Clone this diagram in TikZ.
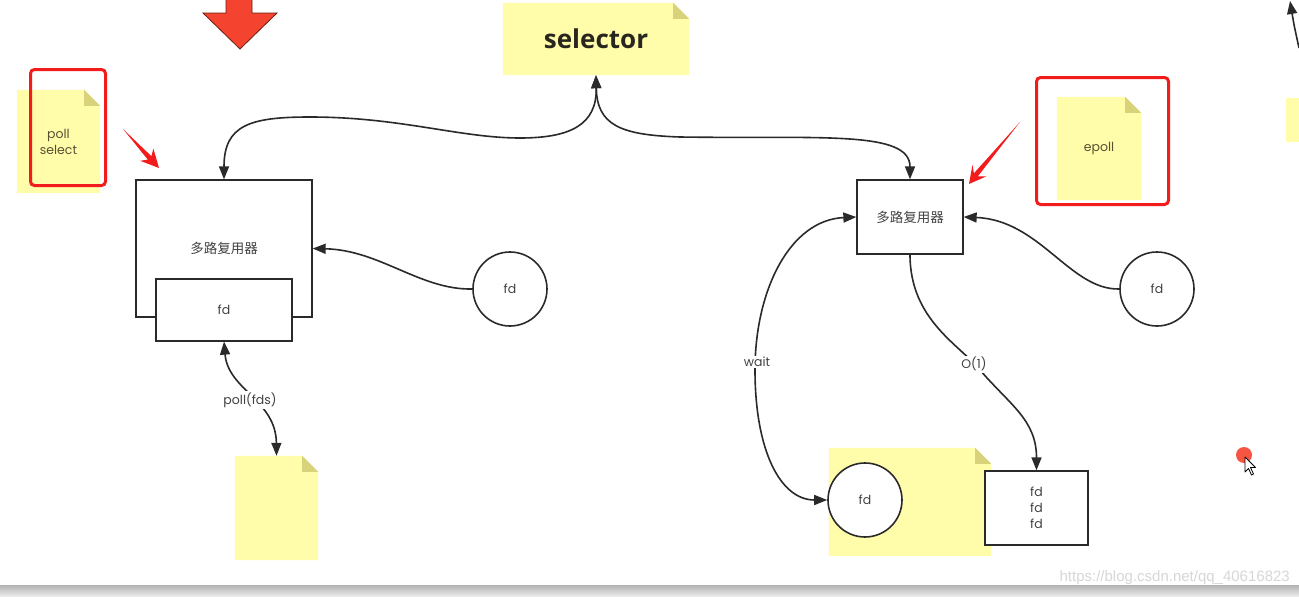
\documentclass[tikz,border=0pt]{standalone}
\usepackage{fontspec}
\setmainfont{Poppins}
\newfontfamily\cjk{Noto Sans CJK SC}
\newfontfamily\selfont{Open Sans}
\newfontfamily\wmfont{Liberation Sans}
\usetikzlibrary{arrows.meta,calc,backgrounds}
\definecolor{notey}{RGB}{255,253,170}
\definecolor{foldy}{RGB}{216,210,122}
\definecolor{linec}{RGB}{42,42,42}
\definecolor{txtc}{RGB}{66,66,66}
\definecolor{notetxt}{RGB}{88,80,50}
\definecolor{redc}{RGB}{242,28,28}
\definecolor{bigred}{RGB}{244,67,46}
\newcommand{\dognote}[1]{%
  \fill[notey] (#1.south west) -- (#1.north west) -- ([xshift=-16pt]#1.north east)
     -- ([yshift=-16pt]#1.north east) -- (#1.south east) -- cycle;
  \fill[foldy] ([xshift=-16pt]#1.north east) -- ([yshift=-16pt]#1.north east)
     -- ([xshift=-16pt,yshift=-16pt]#1.north east) -- cycle;}
\tikzset{
  box/.style={draw=linec, line width=1.3pt, fill=white, inner sep=0pt, text=txtc, font=\fontsize{12.5}{16}\selectfont},
  fdcirc/.style={circle, draw=linec, line width=1.6pt, fill=white, minimum size=74pt, inner sep=0pt, text=txtc, font=\fontsize{12.5}{13}\selectfont},
  conn/.style={draw=linec, line width=1.6pt},
  arr/.style={conn, -{Triangle[length=13pt,width=10pt]}},
  darr/.style={conn, {Triangle[length=13pt,width=10pt]}-{Triangle[length=13pt,width=10pt]}},
  lbl/.style={fill=white, inner sep=1.5pt, text=txtc, font=\fontsize{12.5}{13}\selectfont},
  notebox/.style={inner sep=0pt, text=notetxt, font=\fontsize{12.5}{16}\selectfont, align=center},
  redbox/.style={draw=redc, line width=3pt, rounded corners=4pt, inner sep=0pt},
  redarrow/.style={fill=redc},
}
\begin{document}
\begin{tikzpicture}[x=1pt,y=-1pt]
\useasboundingbox (0,0) rectangle (1299,597);

% notes
\node[notebox, minimum width=186pt, minimum height=72pt, font=\selfont\bfseries\fontsize{26}{30}\selectfont, text={rgb,255:red,40;green,38;blue,30}] (sel) at (596,39) {selector};
\node[notebox, minimum width=83pt, minimum height=103pt] (pnote) at (58.5,141.5) {poll\\select};
\node[notebox, minimum width=83pt, minimum height=104pt] (bnote) at (276.5,508) {};
\node[notebox, minimum width=84pt, minimum height=103pt] (enote) at (1099,148.5) {epoll};
\node[notebox, minimum width=162pt, minimum height=108pt] (wnote) at (910,502) {};
\begin{pgfonlayer}{background}
  \fill[white] (0,0) rectangle (1299,597);
  \dognote{sel}
  \dognote{pnote}
  \dognote{bnote}
  \dognote{enote}
  \dognote{wnote}
  \fill[notey] (1286,98) rectangle (1299,142);
\end{pgfonlayer}

% red highlight boxes
\node[redbox, minimum width=75pt, minimum height=116pt] (rb1) at (68,127.5) {};
\node[redbox, minimum width=132pt, minimum height=127pt] (rb2) at (1102.5,141) {};

% big red arrow
\filldraw[fill=bigred, draw={rgb,255:red,110;green,30;blue,20}, line width=0.8pt, line join=miter]
  (226,-2) -- (226,13) -- (203,13) -- (240,49) -- (277,13) -- (252,13) -- (252,-2) -- cycle;

% small red arrows
\fill[redarrow] (123,129) -- (147.8,159.6) -- (140.2,160.8) -- (159,168) -- (153.4,148.6) -- (151.4,156.2) -- cycle;
\fill[redarrow] (1020,122) -- (973.9,173.3) -- (972.5,164.8) -- (969,184) -- (986.3,176.4) -- (977.7,176.5) -- cycle;

% boxes and circles
\node[box, minimum width=176pt, minimum height=137pt] (mux1) at (224,248.5) {\cjk\fontsize{13.5}{14}\selectfont 多路复用器};
\node[box, minimum width=136pt, minimum height=62pt] (fdin) at (224,310) {fd};
\node[fdcirc] (c1) at (510,289) {fd};
\node[box, minimum width=106pt, minimum height=74pt] (mux2) at (910,217) {\cjk\fontsize{13.5}{14}\selectfont 多路复用器};
\node[fdcirc] (c2) at (1157,289) {fd};
\node[fdcirc] (c3) at (865,500) {fd};
\node[box, minimum width=103pt, minimum height=74pt, align=center] (fdl) at (1036.5,508) {fd\\fd\\fd};

% connectors
\draw[arr] (c1.west) .. controls (420,290) and (380,250) .. (mux1.east);
\draw[arr] (c2.west) .. controls (1070,290) and (1040,220) .. (mux2.east);
\draw[darr] (mux1.north) .. controls (224,125) and (250,117) .. (310,117)
   .. controls (400,117) and (460,138) .. (520,138)
   .. controls (570,138) and (597,125) .. (sel.south);
\draw[darr] (mux2.north) .. controls (910,130) and (820,139) .. (680,137)
   .. controls (620,135) and (597,125) .. (sel.south);
\draw[darr] (mux2.west) .. controls (790,220) and (755,290) .. (755,370)
   .. controls (755,450) and (780,500) .. (c3.west);
\node[lbl] (wl) at (757,362) {wait};
\draw[arr] (mux2.south) .. controls (910,320) and (960,345) .. (980,370)
   .. controls (1010,405) and (1036.5,420) .. (fdl.north);
\node[lbl] (ol) at (974,364) {O(1)};
\draw[darr] (fdin.south) .. controls (228,390) and (276,400) .. (bnote.north);
\node[lbl] (pl) at (250,400) {poll(fds)};

% top-right partial arrow
\coordinate (tra) at (1299,48);
\coordinate (trb) at (1290,1);
\draw[arr] (tra) .. controls (1294,25) .. (trb);

% red dot and cursor
\fill[bigred, opacity=0.9] (1244,455) circle (8pt);
\filldraw[fill=white, draw=black, line width=0.8pt, line join=round]
  (1245,457) -- (1245,472) -- (1248.5,468.5) -- (1251.5,475) -- (1253.5,474) -- (1250.5,467.5) -- (1255.5,467.5) -- cycle;

% watermark and bottom bar
\node[anchor=east, inner sep=0pt, text={rgb,255:red,215;green,215;blue,215}, font=\wmfont\fontsize{15}{17}\selectfont] (wm) at (1290,578) {https://blog.csdn.net/qq\_40616823};
\shade[top color=gray!60, bottom color=gray!12] (0,585) rectangle (1299,597);
\end{tikzpicture}
\end{document}
